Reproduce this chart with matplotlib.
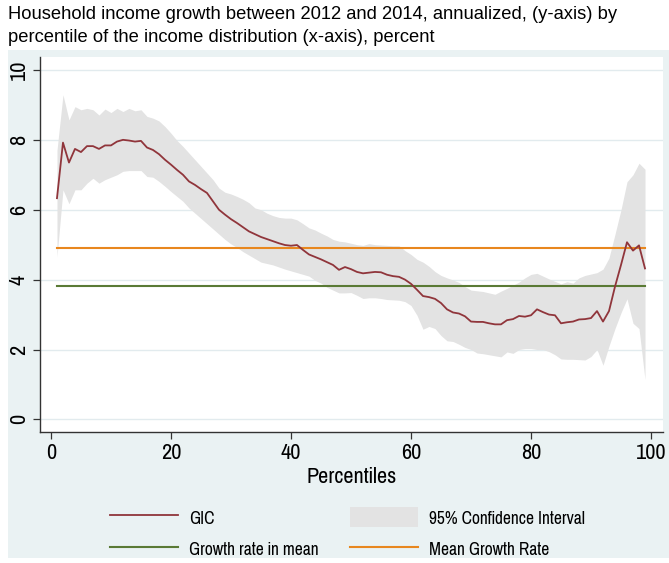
#!/usr/bin/env python3
"""Growth incidence curve 2012-2014 with 95% CI, mean growth reference lines."""

import matplotlib
matplotlib.use("Agg")
import matplotlib.pyplot as plt
from matplotlib.lines import Line2D
from matplotlib.patches import Patch, Rectangle

TITLE = ("Household income growth between 2012 and 2014, annualized, (y-axis) by\n"
         "percentile of the income distribution (x-axis), percent")

percentiles = list(range(1, 100))

gic = [
    6.33, 7.92, 7.35, 7.74, 7.65, 7.82, 7.82, 7.74, 7.84, 7.84,
    7.95, 8.00, 7.98, 7.95, 7.97, 7.78, 7.71, 7.59, 7.43, 7.29,
    7.14, 7.00, 6.81, 6.71, 6.59, 6.48, 6.24, 6.00, 5.86, 5.73,
    5.62, 5.50, 5.38, 5.30, 5.22, 5.16, 5.10, 5.04, 4.99, 4.97,
    4.99, 4.85, 4.72, 4.65, 4.58, 4.50, 4.42, 4.28, 4.36, 4.30,
    4.22, 4.18, 4.20, 4.22, 4.21, 4.14, 4.10, 4.08, 4.00, 3.88,
    3.71, 3.53, 3.50, 3.45, 3.33, 3.15, 3.06, 3.03, 2.95, 2.80,
    2.79, 2.79, 2.75, 2.72, 2.72, 2.84, 2.87, 2.96, 2.94, 2.98,
    3.15, 3.07, 3.00, 2.98, 2.75, 2.78, 2.80, 2.86, 2.87, 2.90,
    3.10, 2.80, 3.10, 3.80, 4.42, 5.07, 4.83, 4.98, 4.32,
]

ci_upper = [
    7.70, 9.29, 8.57, 8.95, 8.86, 8.90, 8.86, 8.71, 8.88, 8.78,
    8.90, 8.81, 8.90, 8.83, 8.86, 8.67, 8.62, 8.54, 8.38, 8.19,
    7.98, 7.81, 7.62, 7.43, 7.24, 7.05, 6.86, 6.62, 6.50, 6.45,
    6.38, 6.30, 6.20, 6.05, 6.00, 5.90, 5.83, 5.78, 5.76, 5.76,
    5.71, 5.60, 5.48, 5.42, 5.33, 5.25, 5.15, 5.10, 5.08, 5.04,
    5.00, 4.98, 5.03, 5.00, 4.99, 4.98, 4.97, 4.97, 4.83, 4.72,
    4.58, 4.50, 4.38, 4.23, 4.12, 4.05, 3.99, 3.92, 3.80, 3.70,
    3.68, 3.66, 3.62, 3.58, 3.67, 3.75, 3.84, 3.93, 4.05, 4.15,
    4.18, 4.10, 4.02, 3.95, 3.88, 3.94, 3.90, 4.05, 4.12, 4.16,
    4.20, 4.30, 4.62, 5.30, 6.00, 6.80, 7.00, 7.33, 7.16,
]

ci_lower = [
    4.65, 6.57, 6.17, 6.57, 6.57, 6.76, 6.90, 6.76, 6.86, 6.93,
    7.00, 7.10, 7.12, 7.12, 7.12, 6.95, 6.93, 6.81, 6.67, 6.52,
    6.38, 6.24, 6.05, 5.90, 5.75, 5.60, 5.45, 5.30, 5.15, 5.02,
    4.92, 4.80, 4.70, 4.60, 4.50, 4.46, 4.42, 4.36, 4.30, 4.25,
    4.20, 4.15, 4.10, 3.98, 3.90, 3.78, 3.70, 3.62, 3.62, 3.63,
    3.55, 3.46, 3.48, 3.48, 3.46, 3.43, 3.42, 3.41, 3.37, 3.26,
    2.98, 2.58, 2.66, 2.60, 2.40, 2.25, 2.23, 2.15, 2.06, 2.00,
    1.90, 1.88, 1.85, 1.82, 1.79, 1.93, 1.89, 2.00, 2.03, 2.03,
    2.00, 2.00, 1.94, 1.85, 1.73, 1.72, 1.72, 1.71, 1.70, 1.80,
    2.00, 1.55, 2.10, 2.60, 3.05, 3.45, 2.75, 2.60, 1.14,
]

growth_in_mean = 3.83
mean_growth_rate = 4.90

x_ticks = [0, 20, 40, 60, 80, 100]
y_ticks = [0, 2, 4, 6, 8, 10]

BG = "#EAF2F3"
GRID = "#E2EBEE"
NARROW = ["Pragati Narrow", "Archivo Narrow", "Liberation Sans", "DejaVu Sans"]
C_GIC = "#90353B"
C_GREEN = "#5A7A35"
C_ORANGE = "#E8871E"
C_CI = "#E3E3E3"


def main():
    fig = plt.figure(figsize=(6.69, 5.63), dpi=100, facecolor="white")
    W, H = 669, 563
    # Stata graph region
    fig.patches.append(Rectangle((8 / W, 1 - 558 / H), 661 / W, 508 / H,
                                 transform=fig.transFigure, facecolor=BG,
                                 edgecolor="none", zorder=-5))
    fig.text(8 / W, 1 - 6 / H, TITLE, ha="left", va="top", fontsize=13.2,
             family=["Liberation Sans", "DejaVu Sans"], linespacing=1.45)

    ax = fig.add_axes([40 / W, 1 - 432 / H, 623 / W, 375 / H])
    ax.set_zorder(2)
    ax.set_facecolor("white")

    n = len(percentiles)
    ax.fill_between(percentiles, ci_lower, ci_upper, color=C_CI, lw=0, zorder=2)
    ax.plot(percentiles, [mean_growth_rate] * n, color=C_ORANGE, lw=1.5, zorder=3)
    ax.plot(percentiles, [growth_in_mean] * n, color=C_GREEN, lw=1.5, zorder=3)
    ax.plot(percentiles, gic, color=C_GIC, lw=1.3, zorder=4)

    ax.set_xlim(-1.83, 102)
    ax.set_ylim(-0.36, 10.37)
    ax.set_xticks(x_ticks)
    ax.set_yticks(y_ticks)
    ax.set_xticklabels([str(t) for t in x_ticks], family=NARROW, fontsize=17.5)
    ax.set_yticklabels([str(t) for t in y_ticks], family=NARROW, fontsize=17.5,
                       rotation=90, va="center")
    ax.tick_params(axis="both", direction="out", length=5, width=0.9,
                   color="#333333", pad=3)
    ax.grid(axis="y", color=GRID, lw=1.0, zorder=1)
    ax.set_axisbelow(True)
    for side in ("top", "right"):
        ax.spines[side].set_visible(False)
    for side in ("left", "bottom"):
        ax.spines[side].set_color("#333333")
        ax.spines[side].set_linewidth(1.0)
    ax.set_xlabel("Percentiles", family=NARROW, fontsize=17.4, labelpad=3)

    fs = 13.7
    handles = [
        Line2D([], [], color=C_GIC, lw=1.3),
        Line2D([], [], color=C_GREEN, lw=1.5),
        Patch(facecolor=C_CI, edgecolor="none"),
        Line2D([], [], color=C_ORANGE, lw=1.5),
    ]
    labels = ["GIC", "Growth rate in mean", "95% Confidence Interval", "Mean Growth Rate"]
    fig.legend(handles, labels, ncol=2, loc="upper left",
               bbox_to_anchor=(110 / W, 1 - 507 / H), frameon=False,
               borderpad=0, borderaxespad=0, handlelength=3.58, handleheight=1.26,
               handletextpad=0.58, columnspacing=1.63, labelspacing=0.6,
               prop={"family": NARROW, "size": fs})

    fig.savefig("out.png", dpi=100, facecolor="white")
    plt.close(fig)


if __name__ == "__main__":
    main()
